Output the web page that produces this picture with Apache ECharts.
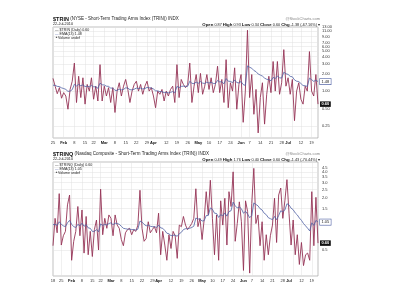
<!DOCTYPE html>
<html><head><meta charset="utf-8">
<script src="https://cdn.jsdelivr.net/npm/echarts@6/dist/echarts.min.js"></script>
<style>html,body{margin:0;padding:0;background:#fff}#c{width:400px;height:300px}</style>
</head><body><div id="c"></div>
<script>
// ---- data ----
const holidays = ['2010-01-18','2010-02-15','2010-04-02','2010-05-31','2010-07-05'];
const trinStart = '2010-01-25';
const trinqStart = '2010-01-19';
const endDate = '2010-07-22';

const trinClose = [
 1.68,1.23,0.91,1.16,0.76,0.95,0.83,0.49,1.08,1.50,
 3.10,0.64,1.83,0.78,1.72,0.60,1.32,1.01,1.72,0.73,
 1.23,0.68,2.91,0.68,1.23,0.83,1.16,0.64,1.16,0.43,
 1.01,1.41,0.83,1.23,1.61,1.08,0.64,1.01,1.32,1.50,
 1.01,1.32,0.89,1.23,1.50,1.01,1.16,0.83,0.52,1.01,
 0.89,1.08,0.68,1.01,0.83,1.08,1.23,0.64,2.91,0.78,
 1.61,1.32,1.16,1.30,3.10,0.64,1.23,1.96,0.95,2.05,
 0.89,1.23,1.96,1.08,1.72,0.95,1.32,2.73,0.95,1.61,
 0.64,3.55,0.52,1.41,1.01,2.56,0.49,1.32,1.96,0.29,
 1.01,11.5,0.78,1.96,0.40,1.08,0.19,0.78,1.41,0.27,
 0.89,1.83,0.95,3.30,1.01,3.30,0.89,1.41,5.30,1.23,
 1.72,0.89,1.61,0.31,1.01,1.41,0.73,0.60,1.23,1.01,
 4.90,1.01,0.83,1.96,0.60];
const trinEma = [
 1.28,1.27,1.22,1.21,1.15,1.12,1.08,1.00,1.01,1.07,
 1.33,1.24,1.32,1.25,1.30,1.21,1.23,1.20,1.27,1.20,
 1.20,1.13,1.39,1.30,1.29,1.23,1.22,1.14,1.14,1.04,
 1.04,1.09,1.06,1.08,1.15,1.14,1.07,1.06,1.09,1.14,
 1.12,1.14,1.10,1.12,1.17,1.15,1.15,1.10,1.02,1.02,
 0.99,0.99,0.95,0.96,0.94,0.96,0.99,0.94,1.22,1.16,
 1.22,1.23,1.22,1.22,1.50,1.38,1.36,1.45,1.38,1.48,
 1.39,1.37,1.45,1.39,1.44,1.37,1.36,1.55,1.46,1.47,
 1.35,1.67,1.50,1.49,1.42,1.58,1.42,1.40,1.48,1.31,
 1.27,2.77,2.62,2.52,2.30,2.20,2.00,1.92,1.84,1.70,
 1.62,1.60,1.52,1.75,1.66,1.85,1.72,1.70,2.15,2.02,
 1.97,1.82,1.79,1.58,1.50,1.48,1.37,1.26,1.25,1.22,
 1.70,1.60,1.49,1.56,1.48];
const trinqClose = [
 0.56,1.16,0.79,2.24,0.57,0.73,0.82,1.66,2.16,0.38,
 0.63,0.82,1.59,0.73,1.45,0.46,1.22,0.44,0.82,0.42,
 0.86,1.11,0.50,2.52,0.75,1.16,0.89,1.27,1.16,0.73,
 1.27,0.97,0.89,0.66,0.56,0.79,0.86,0.89,0.75,0.86,
 0.82,0.97,2.45,0.89,0.63,0.68,1.06,0.79,0.86,0.93,
 0.79,1.33,0.44,0.82,0.57,0.38,0.75,0.52,0.82,0.73,
 0.40,0.97,0.93,1.22,0.97,0.86,0.93,1.01,1.16,2.55,
 0.93,1.16,0.66,1.11,2.36,1.27,3.20,1.16,0.44,1.27,
 0.38,1.85,0.97,1.98,0.57,2.36,1.59,4.00,0.63,1.01,
 1.80,1.06,0.29,1.85,1.39,0.27,1.72,4.39,1.01,1.27,
 0.56,1.06,0.38,0.75,0.44,0.73,0.97,1.98,0.61,2.16,
 2.60,1.16,1.85,3.25,1.33,0.57,1.11,0.44,0.75,0.34,
 0.61,0.33,0.44,0.46,0.38,2.36,0.56,2.03,0.60];
const trinqEma = [
 0.98,0.99,0.96,1.06,0.99,0.95,0.93,1.03,1.10,0.99,
 0.93,0.91,0.99,0.95,1.02,0.94,0.98,0.90,0.89,0.82,
 0.82,0.86,0.81,1.00,0.96,0.99,0.97,1.01,1.03,0.98,
 1.02,1.01,0.99,0.94,0.89,0.88,0.87,0.87,0.86,0.86,
 0.85,0.87,1.08,1.05,0.99,0.95,0.97,0.94,0.93,0.93,
 0.91,0.97,0.90,0.89,0.84,0.78,0.77,0.73,0.74,0.74,
 0.72,0.77,0.80,0.86,0.88,0.88,0.89,0.91,0.94,1.17,
 1.14,1.14,1.08,1.09,1.25,1.25,1.53,1.48,1.33,1.32,
 1.19,1.28,1.24,1.34,1.23,1.39,1.42,1.79,1.62,1.53,
 1.57,1.50,1.33,1.40,1.30,1.18,1.25,1.75,1.68,1.62,
 1.50,1.45,1.33,1.28,1.18,1.15,1.12,1.22,1.12,1.25,
 1.42,1.38,1.45,1.71,1.66,1.52,1.46,1.34,1.27,1.17,
 1.10,1.01,0.95,0.89,0.83,1.03,0.96,1.10,1.05];

const trinTicks = [0.25,0.5,1,2,3,4,5,6,7,9,11,13];
const trinqTicks = [0.5,1,1.5,2,2.5,3,3.5,4,4.5];

const xLabelsTop = [
 ['2010-01-25','25'],['2010-02-01','Feb'],['2010-02-08','8'],['2010-02-16','15'],['2010-02-22','22'],
 ['2010-03-01','Mar'],['2010-03-08','8'],['2010-03-15','15'],['2010-03-22','22'],['2010-03-29','29'],
 ['2010-04-01','Apr'],['2010-04-12','12'],['2010-04-19','19'],['2010-04-26','26'],['2010-05-03','May'],
 ['2010-05-10','10'],['2010-05-17','17'],['2010-05-24','24'],['2010-06-01','Jun'],['2010-06-07','7'],
 ['2010-06-14','14'],['2010-06-21','21'],['2010-06-28','28'],['2010-07-01','Jul'],['2010-07-12','12'],
 ['2010-07-19','19']];
const xLabelsBottom = [['2010-01-19','18']].concat(xLabelsTop);

// ---- helpers ----
const FF = "'Liberation Sans', Arial, sans-serif";
const PRICE = '#953356';
const EMA = '#4e5fa3';
const L = v => Math.log2(v);
function tradingDays(start, end) {
  const out = [];
  let t = Date.parse(start + 'T00:00:00Z');
  const e = Date.parse(end + 'T00:00:00Z');
  while (t <= e) {
    const d = new Date(t), dow = d.getUTCDay(), s = d.toISOString().slice(0, 10);
    if (dow !== 0 && dow !== 6 && holidays.indexOf(s) < 0) out.push(s);
    t += 86400000;
  }
  return out;
}
function weekStarts(dates) {
  const s = new Set();
  dates.forEach((d, i) => {
    if (i === 0 || new Date(d).getUTCDay() <= new Date(dates[i - 1]).getUTCDay()) s.add(i);
  });
  return s;
}
const topDates = tradingDays(trinStart, endDate);
const botDates = tradingDays(trinqStart, endDate);

function xAxisFor(dates, labels, gridIndex) {
  const map = {};
  labels.forEach(([d, t]) => { map[d] = t; });
  const ws = weekStarts(dates);
  return {
    type: 'category', gridIndex, data: dates, boundaryGap: false,
    axisLine: { show: false }, axisTick: { show: false },
    axisLabel: {
      interval: (i, v) => v in map,
      formatter: v => { const t = map[v]; return isNaN(+t) ? '{m|' + t + '}' : t; },
      fontSize: 4, color: '#333', margin: 3, fontFamily: FF,
      rich: { m: { fontWeight: 'bold', fontSize: 4, color: '#111', fontFamily: FF } }
    },
    splitLine: { show: true, interval: i => ws.has(i), lineStyle: { color: '#e0e0e0', width: 0.5 } }
  };
}
function yAxisFor(ticks, min, max, digits, gridIndex) {
  const cv = ticks.map(L);
  return {
    type: 'value', gridIndex, position: 'right', min: L(min), max: L(max),
    axisLine: { show: false },
    axisTick: { show: false, customValues: cv },
    axisLabel: { customValues: cv, formatter: v => Math.pow(2, v).toFixed(digits),
      fontSize: 4, color: '#333', margin: 4, fontFamily: FF },
    splitLine: { show: true, lineStyle: { color: '#e0e0e0', width: 0.5 } }
  };
}
function priceSeries(vals, idx) {
  return {
    type: 'line', xAxisIndex: idx, yAxisIndex: idx, data: vals.map(L),
    showSymbol: false, symbol: 'none', lineStyle: { color: PRICE, width: 0.9 },
    endLabel: { show: true, formatter: p => Math.pow(2, p.value).toFixed(2),
      backgroundColor: '#111', color: '#fff', fontSize: 4, fontWeight: 'bold', fontFamily: FF,
      padding: [1, 1.5, 0.5, 1.5], distance: 2 }
  };
}
function emaSeries(vals, idx) {
  return {
    type: 'line', xAxisIndex: idx, yAxisIndex: idx, data: vals.map(L),
    showSymbol: false, symbol: 'none', lineStyle: { color: EMA, width: 0.8 },
    endLabel: { show: true, formatter: p => Math.pow(2, p.value).toFixed(2),
      backgroundColor: '#fff', borderColor: EMA, borderWidth: 0.6, color: '#222',
      fontSize: 4, fontFamily: FF, padding: [1, 1.5, 0.5, 1.5], distance: 2 }
  };
}
function titles(sym, name, off, hdr, legendVals) {
  const ts = { fontFamily: FF, fontWeight: 'normal', color: '#222' };
  return [
    { text: '{b|' + sym + '} ' + name, left: 53, top: 16 + off, padding: 0,
      textStyle: Object.assign({}, ts, { fontSize: 4.5, rich: { b: { fontSize: 5.5, fontWeight: 'bold', fontFamily: FF, color: '#111' } } }) },
    { text: '22-Jul-2010', left: 53, top: 22 + off, padding: 0,
      textStyle: Object.assign({}, ts, { fontSize: 3.8 }) },
    { text: '@StockCharts.com', right: 80, top: 17 + off, padding: 0,
      textStyle: Object.assign({}, ts, { fontSize: 4, color: '#888' }) },
    { text: hdr, right: 80, top: 23 + off, padding: 0,
      textStyle: Object.assign({}, ts, { fontSize: 3.8, rich: { l: { fontSize: 4.3, fontWeight: 'bold', fontFamily: FF, color: '#111' } } }) },
    { text: '{d|—} ' + sym + ' (Daily) ' + legendVals[0] + '\n{e|—} EMA(13) ' + legendVals[1] + '\n{v|▲}Volume undef',
      left: 55, top: 28 + off, padding: 0,
      textStyle: Object.assign({}, ts, { fontSize: 3.6, lineHeight: 3.8,
        rich: { d: { color: '#222', fontSize: 3.6, lineHeight: 3.8 }, e: { color: EMA, fontSize: 3.6, lineHeight: 3.8 }, v: { color: '#555', fontSize: 3, lineHeight: 3.8 } } }) }
  ];
}

const chart = echarts.init(document.getElementById('c'), null, { renderer: 'canvas' });
chart.setOption({
  animation: false,
  backgroundColor: '#fff',
  title: titles('$TRIN', '(NYSE - Short-Term Trading Arms Index (TRIN)) INDX', 0,
      '{l|Open} 0.87 {l|High} 0.93 {l|Low} 0.34 {l|Close} 0.60 {l|Chg} -1.38 (-67.16%) ▾', ['0.60', '1.48'])
    .concat(titles('$TRINQ', '(Nasdaq Composite - Short-Term Trading Arms Index (TRIN)) INDX', 135,
      '{l|Open} 0.49 {l|High} 1.76 {l|Low} 0.40 {l|Close} 0.60 {l|Chg} -1.43 (-70.44%) ▾', ['0.60', '1.05'])),
  grid: [
    { left: 53, right: 82, top: 27, height: 111, show: true, borderColor: '#999', borderWidth: 0.6 },
    { left: 53, right: 82, top: 162, height: 114, show: true, borderColor: '#999', borderWidth: 0.6 }
  ],
  xAxis: [xAxisFor(topDates, xLabelsTop, 0), xAxisFor(botDates, xLabelsBottom, 1)],
  yAxis: [yAxisFor(trinTicks, 0.155, 13.1, 2, 0), yAxisFor(trinqTicks, 0.25, 5.2, 1, 1)],
  series: [priceSeries(trinClose, 0), emaSeries(trinEma, 0), priceSeries(trinqClose, 1), emaSeries(trinqEma, 1)]
});
</script></body></html>
